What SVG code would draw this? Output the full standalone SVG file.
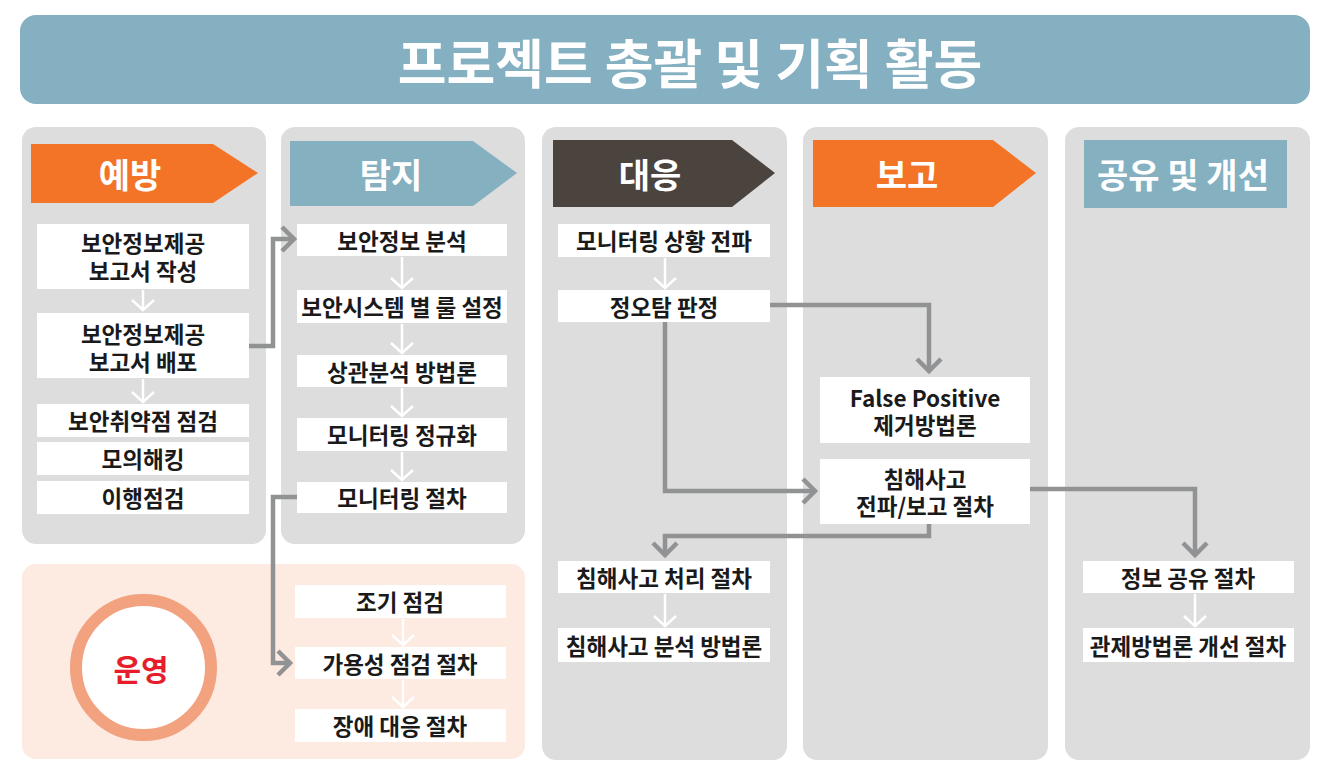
<svg xmlns="http://www.w3.org/2000/svg" width="1329" height="772" viewBox="0 0 1329 772">
<defs>
<style>
.lane{fill:#dddddd}
.box{fill:#ffffff}
.t{font-family:"Noto Sans CJK KR","Noto Sans",sans-serif;font-size:22.5px;font-weight:bold;fill:#1a1a1a;text-anchor:middle;dominant-baseline:central}
.h{font-family:"Noto Sans CJK KR","Noto Sans",sans-serif;font-size:34px;font-weight:bold;fill:#ffffff;text-anchor:middle;dominant-baseline:central}
.title{font-family:"Noto Sans CJK KR","Noto Sans",sans-serif;font-size:53px;font-weight:bold;fill:#ffffff;text-anchor:middle;dominant-baseline:central}
.con{fill:none;stroke:#909294;stroke-width:4.5;marker-end:url(#ga)}
.wa{fill:none;stroke:#ffffff;stroke-width:2.5;marker-end:url(#wa)}
</style>
<marker id="ga" markerUnits="userSpaceOnUse" markerWidth="34" markerHeight="34" viewBox="-17 -17 34 34" refX="0" refY="0" orient="auto">
<path d="M-12,-12 L0,0 L-12,12" fill="none" stroke="#909294" stroke-width="4.5"/>
</marker>
<marker id="wa" markerUnits="userSpaceOnUse" markerWidth="30" markerHeight="30" viewBox="-15 -15 30 30" refX="0" refY="0" orient="auto">
<path d="M-10,-11 L0,0 L-10,11" fill="none" stroke="#ffffff" stroke-width="2.5"/>
</marker>
</defs>

<g id="title">
<rect x="20" y="15" width="1290" height="89" rx="16" fill="#84b0c1"/>
<text class="title" x="690" y="61">프로젝트 총괄 및 기획 활동</text>
</g>

<g id="lanes">
<rect class="lane" x="22" y="127" width="244" height="417" rx="14"/>
<rect class="lane" x="281" y="127" width="244" height="417" rx="14"/>
<rect class="lane" x="542" y="127" width="245" height="633" rx="14"/>
<rect class="lane" x="803" y="127" width="245" height="633" rx="14"/>
<rect class="lane" x="1065" y="127" width="245" height="633" rx="14"/>
<rect x="22" y="564" width="503" height="195" rx="14" fill="#fdeae1"/>
</g>

<g id="header-prevent">
<polygon points="31,144 213,144 258,173 213,203 31,203" fill="#f37427"/>
<text class="h" x="130" y="173">예방</text>
</g>
<g id="header-detect">
<polygon points="290,141 473,141 517,173 473,206 290,206" fill="#84b0c0"/>
<text class="h" x="391" y="173">탐지</text>
</g>
<g id="header-respond">
<polygon points="553,140 732,140 775,173 732,207 553,207" fill="#4b433e"/>
<text class="h" x="650" y="173">대응</text>
</g>
<g id="header-report">
<polygon points="813,140 993,140 1036,173 993,207 813,207" fill="#f37427"/>
<text class="h" x="907" y="173">보고</text>
</g>
<g id="header-share">
<rect x="1084" y="140" width="203" height="68" fill="#84b0c0"/>
<text class="h" x="1183" y="173">공유 및 개선</text>
</g>

<g id="p1"><rect class="box" x="37" y="224" width="212" height="65"/><text class="t"><tspan x="143" y="242">보안정보제공</tspan><tspan x="143" y="270">보고서 작성</tspan></text></g>
<g id="p2"><rect class="box" x="37" y="313" width="212" height="65"/><text class="t"><tspan x="143" y="333">보안정보제공</tspan><tspan x="143" y="361">보고서 배포</tspan></text></g>
<g id="p3"><rect class="box" x="37" y="404" width="212" height="33"/><text class="t" x="143" y="420">보안취약점 점검</text></g>
<g id="p4"><rect class="box" x="37" y="442" width="212" height="33"/><text class="t" x="143" y="458">모의해킹</text></g>
<g id="p5"><rect class="box" x="37" y="481" width="212" height="33"/><text class="t" x="143" y="497">이행점검</text></g>

<g id="d1"><rect class="box" x="297" y="224" width="210" height="32"/><text class="t" x="402" y="240">보안정보 분석</text></g>
<g id="d2"><rect class="box" x="297" y="290" width="210" height="33"/><text class="t" x="402" y="306">보안시스템 별 룰 설정</text></g>
<g id="d3"><rect class="box" x="297" y="355" width="210" height="32"/><text class="t" x="402" y="371">상관분석 방법론</text></g>
<g id="d4"><rect class="box" x="297" y="418" width="210" height="33"/><text class="t" x="402" y="434">모니터링 정규화</text></g>
<g id="d5"><rect class="box" x="297" y="482" width="210" height="31"/><text class="t" x="402" y="497">모니터링 절차</text></g>

<g id="r1"><rect class="box" x="558" y="224" width="212" height="33"/><text class="t" x="664" y="240">모니터링 상황 전파</text></g>
<g id="r2"><rect class="box" x="558" y="290" width="212" height="32"/><text class="t" x="664" y="306">정오탐 판정</text></g>
<g id="r3"><rect class="box" x="558" y="561" width="212" height="32"/><text class="t" x="664" y="577">침해사고 처리 절차</text></g>
<g id="r4"><rect class="box" x="558" y="628" width="212" height="34"/><text class="t" x="664" y="645">침해사고 분석 방법론</text></g>

<g id="b1"><rect class="box" x="820" y="377" width="210" height="66"/><text class="t"><tspan x="925" y="397">False Positive</tspan><tspan x="925" y="424">제거방법론</tspan></text></g>
<g id="b2"><rect class="box" x="820" y="459" width="210" height="65"/><text class="t"><tspan x="925" y="478">침해사고</tspan><tspan x="925" y="505">전파/보고 절차</tspan></text></g>

<g id="s1"><rect class="box" x="1083" y="561" width="211" height="32"/><text class="t" x="1188" y="577">정보 공유 절차</text></g>
<g id="s2"><rect class="box" x="1083" y="628" width="211" height="34"/><text class="t" x="1188" y="645">관제방법론 개선 절차</text></g>

<g id="ops">
<circle cx="143.5" cy="667.5" r="67.5" fill="#ffffff" stroke="#f2a27f" stroke-width="12"/>
<text x="141" y="668" font-family="Noto Sans CJK KR, Noto Sans, sans-serif" font-size="30" font-weight="bold" fill="#e61e2b" text-anchor="middle" dominant-baseline="central">운영</text>
</g>
<g id="o1"><rect class="box" x="295" y="585" width="211" height="33"/><text class="t" x="400" y="601">조기 점검</text></g>
<g id="o2"><rect class="box" x="295" y="647" width="211" height="32"/><text class="t" x="400" y="663">가용성 점검 절차</text></g>
<g id="o3"><rect class="box" x="295" y="709" width="211" height="33"/><text class="t" x="400" y="725">장애 대응 절차</text></g>

<g id="connectors">
<path class="wa" d="M143,290 V310"/>
<path class="wa" d="M143,379 V402"/>
<path class="wa" d="M402,257 V288"/>
<path class="wa" d="M402,324 V353"/>
<path class="wa" d="M402,388 V416"/>
<path class="wa" d="M402,452 V480"/>
<path class="wa" d="M665,258 V288"/>
<path class="wa" d="M665,594 V626"/>
<path class="wa" d="M1195,594 V626"/>
<path class="wa" d="M403,619 V645"/>
<path class="wa" d="M403,680 V707"/>
<path class="con" d="M249,346 H273 V239 H294"/>
<path class="con" d="M297,497 H273 V663 H290"/>
<path class="con" d="M770,305 H929 V371"/>
<path class="con" d="M665,322 V491 H815"/>
<path class="con" d="M929,524 V536 H665 V555"/>
<path class="con" d="M1030,489 H1195 V555"/>
</g>
</svg>
